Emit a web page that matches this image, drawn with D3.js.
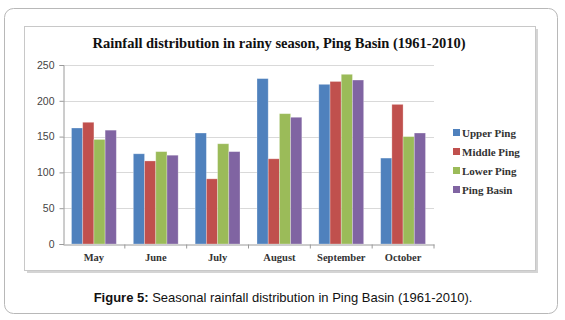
<!DOCTYPE html>
<html>
<head>
<meta charset="utf-8">
<script src="https://cdn.jsdelivr.net/npm/d3@7"></script>
<style>
  body { margin: 0; background: #fff; }
</style>
</head>
<body>
<div id="chart"></div>
<script>
var months = ["May", "June", "July", "August", "September", "October"];
var series = ["Upper Ping", "Middle Ping", "Lower Ping", "Ping Basin"];
var upperPing = [162, 126, 155, 231, 223, 120];
var middlePing = [170, 116, 91, 119, 227, 195];
var lowerPing = [146, 129, 140, 182, 237, 150];
var pingBasin = [159, 124, 129, 177, 229, 155];
var yTicks = [0, 50, 100, 150, 200, 250];
var colors = ["#4f81bd", "#c0504d", "#9bbb59", "#8064a2"];

var values = [upperPing, middlePing, lowerPing, pingBasin];
var rows = months.map(function (m, i) {
    var r = { month: m };
    series.forEach(function (s, j) { r[s] = values[j][i]; });
    return r;
});

var svg = d3.select("#chart").append("svg").attr("width", 565).attr("height", 320);

// outer rounded box
svg.append("rect")
    .attr("x", 4.5).attr("y", 8.5).attr("width", 553).attr("height", 305)
    .attr("rx", 9).attr("fill", "#fff").attr("stroke", "#b8b8b8").attr("stroke-width", 1);

// chart frame with shadow
svg.append("rect")
    .attr("x", 27).attr("y", 29).attr("width", 511).attr("height", 244)
    .attr("fill", "#d4d4d4");
svg.append("rect")
    .attr("x", 24.5).attr("y", 26.5).attr("width", 511).attr("height", 244)
    .attr("fill", "#fff").attr("stroke", "#c8c8c8");

var plotLeft = 63, plotRight = 434, plotTop = 65, plotBottom = 244;

var x = d3.scaleBand().domain(months).range([plotLeft, plotRight]);
var x1 = d3.scaleBand().domain(series).range([8.5, x.bandwidth() - 8.5]);
var y = d3.scaleLinear().domain([0, 250]).range([plotBottom, plotTop]);
var z = d3.scaleOrdinal().domain(series).range(colors);

// gridlines
svg.append("g")
    .selectAll("line")
    .data(yTicks.slice(1))
    .enter().append("line")
    .attr("x1", plotLeft).attr("x2", plotRight)
    .attr("y1", function (d) { return Math.round(y(d)) + 0.5; })
    .attr("y2", function (d) { return Math.round(y(d)) + 0.5; })
    .attr("stroke", "#d9d9d9");

// bars
svg.append("g")
    .selectAll("g")
    .data(rows)
    .enter().append("g")
    .attr("transform", function (d) { return "translate(" + x(d.month) + ",0)"; })
    .selectAll("rect")
    .data(function (d) { return series.map(function (s) { return { key: s, value: d[s] }; }); })
    .enter().append("rect")
    .attr("x", function (d) { return x1(d.key); })
    .attr("y", function (d) { return y(d.value); })
    .attr("width", x1.bandwidth())
    .attr("height", function (d) { return y(0) - y(d.value); })
    .attr("fill", function (d) { return z(d.key); })
    .attr("stroke", "rgba(255,255,255,0.35)")
    .attr("stroke-width", 0.8);

// y axis
var yAxis = svg.append("g")
    .attr("transform", "translate(" + (plotLeft + 0.5) + ",0)")
    .call(d3.axisLeft(y).tickValues(yTicks).tickSize(4).tickPadding(5));
yAxis.select(".domain").attr("stroke", "#9a9a9a");
yAxis.selectAll(".tick line").attr("stroke", "#9a9a9a");
yAxis.selectAll("text")
    .attr("font-family", "Liberation Sans, Arial, sans-serif")
    .attr("font-size", 10.5).attr("fill", "#444");

// x axis
var xAxis = svg.append("g")
    .attr("transform", "translate(0," + (plotBottom + 0.5) + ")")
    .call(d3.axisBottom(x).tickSize(0).tickPadding(9));
xAxis.select(".domain").attr("stroke", "#9a9a9a");
xAxis.selectAll("text")
    .attr("font-family", "Liberation Serif, Times New Roman, serif")
    .attr("font-weight", "bold")
    .attr("font-size", 10.5).attr("fill", "#333");
xAxis.append("g")
    .selectAll("line")
    .data(months)
    .enter().append("line")
    .attr("x1", function (d) { return x(d) + x.bandwidth(); })
    .attr("x2", function (d) { return x(d) + x.bandwidth(); })
    .attr("y1", 0).attr("y2", 4)
    .attr("stroke", "#9a9a9a");

// title
svg.append("text")
    .attr("x", 279).attr("y", 48)
    .attr("text-anchor", "middle")
    .attr("font-family", "Liberation Serif, Times New Roman, serif")
    .attr("font-weight", "bold")
    .attr("font-size", 14.5)
    .attr("fill", "#111")
    .text("Rainfall distribution in rainy season, Ping Basin (1961-2010)");

// legend
var legend = svg.append("g")
    .selectAll("g")
    .data(series)
    .enter().append("g")
    .attr("transform", function (d, i) { return "translate(453," + (133 + i * 19) + ")"; });
legend.append("rect")
    .attr("x", 0).attr("y", -4).attr("width", 7).attr("height", 7)
    .attr("fill", z);
legend.append("text")
    .attr("x", 9).attr("y", 0).attr("dy", "0.35em")
    .attr("font-family", "Liberation Serif, Times New Roman, serif")
    .attr("font-weight", "bold")
    .attr("font-size", 11)
    .attr("fill", "#333")
    .text(function (d) { return d; });

// caption
var cap = svg.append("text")
    .attr("x", 283).attr("y", 302)
    .attr("text-anchor", "middle")
    .attr("font-family", "Liberation Sans, Arial, sans-serif")
    .attr("font-size", 13)
    .attr("fill", "#111");
cap.append("tspan").attr("font-weight", "bold").text("Figure 5:");
cap.append("tspan").text(" Seasonal rainfall distribution in Ping Basin (1961-2010).");
</script>
</body>
</html>
